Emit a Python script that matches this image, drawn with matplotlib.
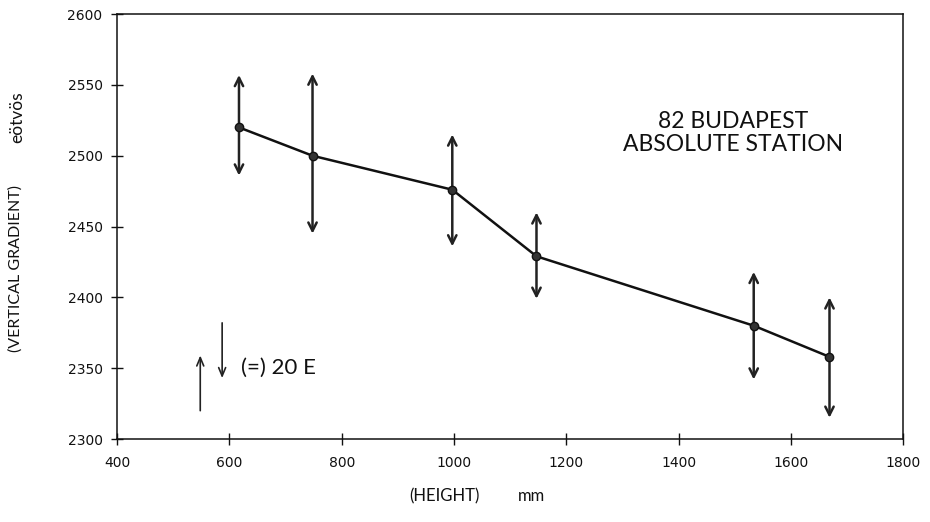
import matplotlib
matplotlib.use("Agg")
import matplotlib.pyplot as plt

# data
height_mm = [617, 748, 997, 1147, 1534, 1669]
gradient = [2520, 2500, 2476, 2429, 2380, 2358]
err_top = [2557, 2558, 2515, 2460, 2418, 2400]
err_bottom = [2486, 2445, 2436, 2399, 2342, 2315]
x_ticks = [400, 600, 800, 1000, 1200, 1400, 1600, 1800]
y_ticks = [2300, 2350, 2400, 2450, 2500, 2550, 2600]

plt.rcParams['font.family'] = ['Lato', 'DejaVu Sans']

fig = plt.figure(figsize=(9.3, 5.22), dpi=100)
ax = fig.add_axes([0.126, 0.159, 0.845, 0.814])
ax.set_xlim(400, 1800)
ax.set_ylim(2300, 2600)
ax.set_xticks(x_ticks)
ax.set_yticks(y_ticks)
ax.tick_params(direction='inout', length=9, width=1, labelsize=10, colors='#111111')
ax.tick_params(axis='x', pad=8)
ax.tick_params(axis='y', pad=6)
for lab in ax.get_xticklabels() + ax.get_yticklabels():
    lab.set_family(['DejaVu Sans'])
for s in ax.spines.values():
    s.set_linewidth(1.1)
    s.set_color('#111111')

# arrows
for x, t, b in zip(height_mm, err_top, err_bottom):
    ax.annotate('', xy=(x, t), xytext=(x, b),
                arrowprops=dict(arrowstyle='<->,head_length=0.6,head_width=0.3',
                                lw=1.8, color='#222222', shrinkA=0, shrinkB=0))

ax.plot(height_mm, gradient, color='#111111', lw=1.8, marker='o', ms=6,
        mfc='#333333', mec='#111111', zorder=3)

# legend-like annotation
ax.annotate('', xy=(548, 2359), xytext=(548, 2320),
            arrowprops=dict(arrowstyle='->,head_length=0.6,head_width=0.25',
                            lw=1.2, color='#222222', shrinkA=0, shrinkB=0))
ax.annotate('', xy=(587, 2343), xytext=(587, 2382),
            arrowprops=dict(arrowstyle='->,head_length=0.6,head_width=0.25',
                            lw=1.2, color='#222222', shrinkA=0, shrinkB=0))
ax.text(620, 2350, '(=) 20 E', fontsize=16, va='center', ha='left', color='#111111')

ax.text(1497, 2516, '82 BUDAPEST\nABSOLUTE STATION', fontsize=16.5, ha='center',
        va='center', linespacing=1.1, color='#111111')

fig.text(0.017, 0.485, '(VERTICAL GRADIENT)', rotation=90, fontsize=11.5,
         ha='center', va='center', color='#111111')
fig.text(0.019, 0.776, 'eötvös', rotation=90, fontsize=12.5,
         ha='center', va='center', color='#111111')
fig.text(0.478, 0.05, '(HEIGHT)', fontsize=12, ha='center', va='center', color='#111111')
fig.text(0.572, 0.05, 'mm', fontsize=12, ha='center', va='center', color='#111111')

fig.savefig('out.png', dpi=100)
